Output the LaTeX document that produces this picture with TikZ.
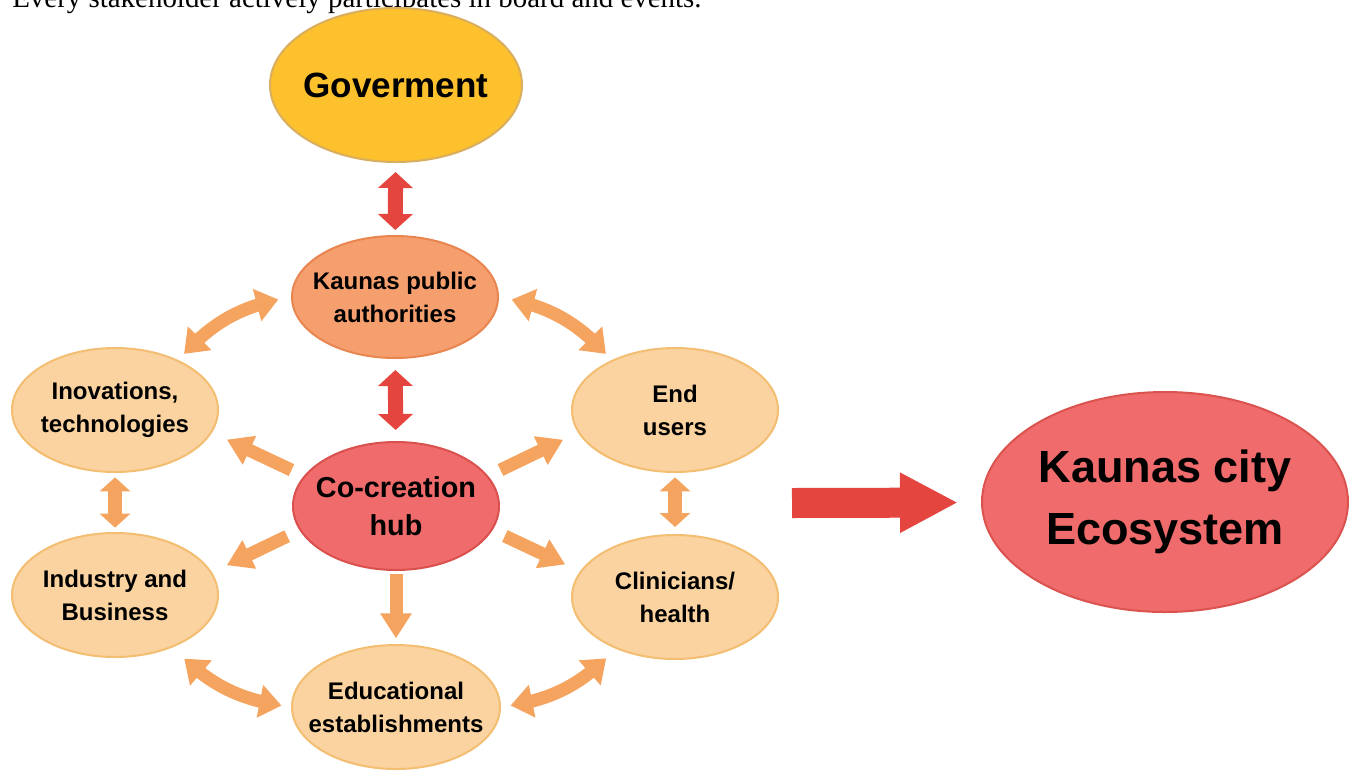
\documentclass[tikz,border=0pt]{standalone}
\usepackage{fontspec}
\setmainfont{Liberation Sans}
\newfontfamily\serifnote{Liberation Serif}
\usetikzlibrary{shapes.geometric,arrows.meta,bending}
\definecolor{govfill}{HTML}{FCC12D}
\definecolor{govdraw}{HTML}{D9AE5E}
\definecolor{kpafill}{HTML}{F59E6E}
\definecolor{kpadraw}{HTML}{E9854F}
\definecolor{hubfill}{HTML}{F06B6B}
\definecolor{hubdraw}{HTML}{D9504C}
\definecolor{lightfill}{HTML}{FAD3A0}
\definecolor{lightdraw}{HTML}{F3BE72}
\definecolor{arrorange}{HTML}{F5A460}
\definecolor{arrred}{HTML}{E5453F}
\tikzset{
  blob/.style={ellipse, inner xsep=-16pt, inner ysep=-10pt, outer sep=0pt, line width=1.5pt, align=center, font=\bfseries},
  lightblob/.style={blob, fill=lightfill, draw=lightdraw, minimum width=154.5pt, minimum height=93pt,
     font=\fontsize{18}{24.75}\selectfont\bfseries},
  oarr/.style={draw=arrorange, line width=9.75pt, -{Triangle[length=18.75pt,width=22.5pt]}},
  odbl/.style={draw=arrorange, line width=10.5pt, {Triangle[length=10.5pt,width=22.5pt]}-{Triangle[length=10.5pt,width=22.5pt]}},
  ocurve/.style={draw=arrorange, line width=9.75pt, {Triangle[length=16.5pt,width=24pt]}-{Triangle[length=16.5pt,width=24pt]}},
  rdbl/.style={draw=arrred, line width=11.25pt, {Triangle[length=12pt,width=25.5pt]}-{Triangle[length=12pt,width=25.5pt]}},
  bigarr/.style={draw=arrred, line width=22.5pt, -{Triangle[length=43.5pt,width=42pt]}}
}
\begin{document}
\begin{tikzpicture}[x=0.75pt,y=-0.75pt]
\useasboundingbox (0,0) rectangle (1352,772);
\clip (0,0) rectangle (1352,772);
\fill[white] (0,0) rectangle (1352,772);

\node[anchor=base west, inner sep=0pt, font=\serifnote\fontsize{21.7}{26}\selectfont] (note) at (12,7) {Every stakeholder actively participates in board and events.};

\node[blob, fill=govfill, draw=govdraw, minimum width=189pt, minimum height=115.5pt,
      font=\fontsize{26.3}{30}\selectfont\bfseries] (gov) at (396,85) {Goverment};
\node[blob, fill=kpafill, draw=kpadraw, minimum width=154.5pt, minimum height=91.5pt,
      font=\fontsize{18}{24.75}\selectfont\bfseries] (kpa) at (395,297) {Kaunas public\\authorities};
\node[blob, fill=hubfill, draw=hubdraw, minimum width=154.5pt, minimum height=96pt,
      font=\fontsize{21.6}{28.5}\selectfont\bfseries] (hub) at (396,506) {Co-creation\\hub};
\node[lightblob] (inov) at (115,410) {Inovations,\\technologies};
\node[lightblob] (ind) at (115,595) {Industry and\\Business};
\node[lightblob] (end) at (675,410) {End\\users};
\node[lightblob] (clin) at (675,597) {Clinicians/\\health};
\node[lightblob, minimum width=156pt] (edu) at (396,707) {Educational\\establishments};
\node[blob, fill=hubfill, draw=hubdraw!90!hubfill, minimum width=274.5pt, minimum height=165pt,
      font=\fontsize{33.8}{46.5}\selectfont\bfseries] (eco) at (1165,502) {Kaunas city\\Ecosystem};

% red double arrows
\draw[rdbl, shorten <=7.5pt, shorten >=4.5pt] (gov) -- (kpa);
\draw[rdbl, shorten <=9pt, shorten >=9pt] (kpa) -- (hub);

% hub outgoing arrows
\draw[oarr, shorten <=11pt, shorten >=13pt] (hub.162) -- (inov.-13);
\draw[oarr, shorten <=11pt, shorten >=13pt] (hub.18) -- (end.-167);
\draw[oarr, shorten <=11pt, shorten >=13pt] (hub.-166) -- (ind.13);
\draw[oarr, shorten <=11pt, shorten >=13pt] (hub.-14) -- (clin.165);
\draw[oarr, shorten <=3pt, shorten >=5pt] (hub.south) -- (edu.north);

% vertical orange double arrows
\draw[odbl, shorten <=4pt, shorten >=4pt] (inov.south) -- (ind.north);
\draw[odbl, shorten <=4pt, shorten >=6pt] (end.south) -- (clin.north);

% curved double arrows
\draw[ocurve, shorten <=10.5pt, shorten >=7pt] (kpa.west) to[bend right=20] (inov.38);
\draw[ocurve, shorten <=10.5pt, shorten >=7pt] (kpa.east) to[bend left=20] (end.142);
\draw[ocurve, shorten <=13pt, shorten >=8pt] (ind.-42) to[bend right=20] (edu.west);
\draw[ocurve, shorten <=8pt, shorten >=11pt] (edu.east) to[bend right=20] (clin.-139);

% big arrow
\coordinate (bigstart) at (792,503);
\draw[bigarr, shorten >=18pt] (bigstart) -- (eco);
\end{tikzpicture}
\end{document}
